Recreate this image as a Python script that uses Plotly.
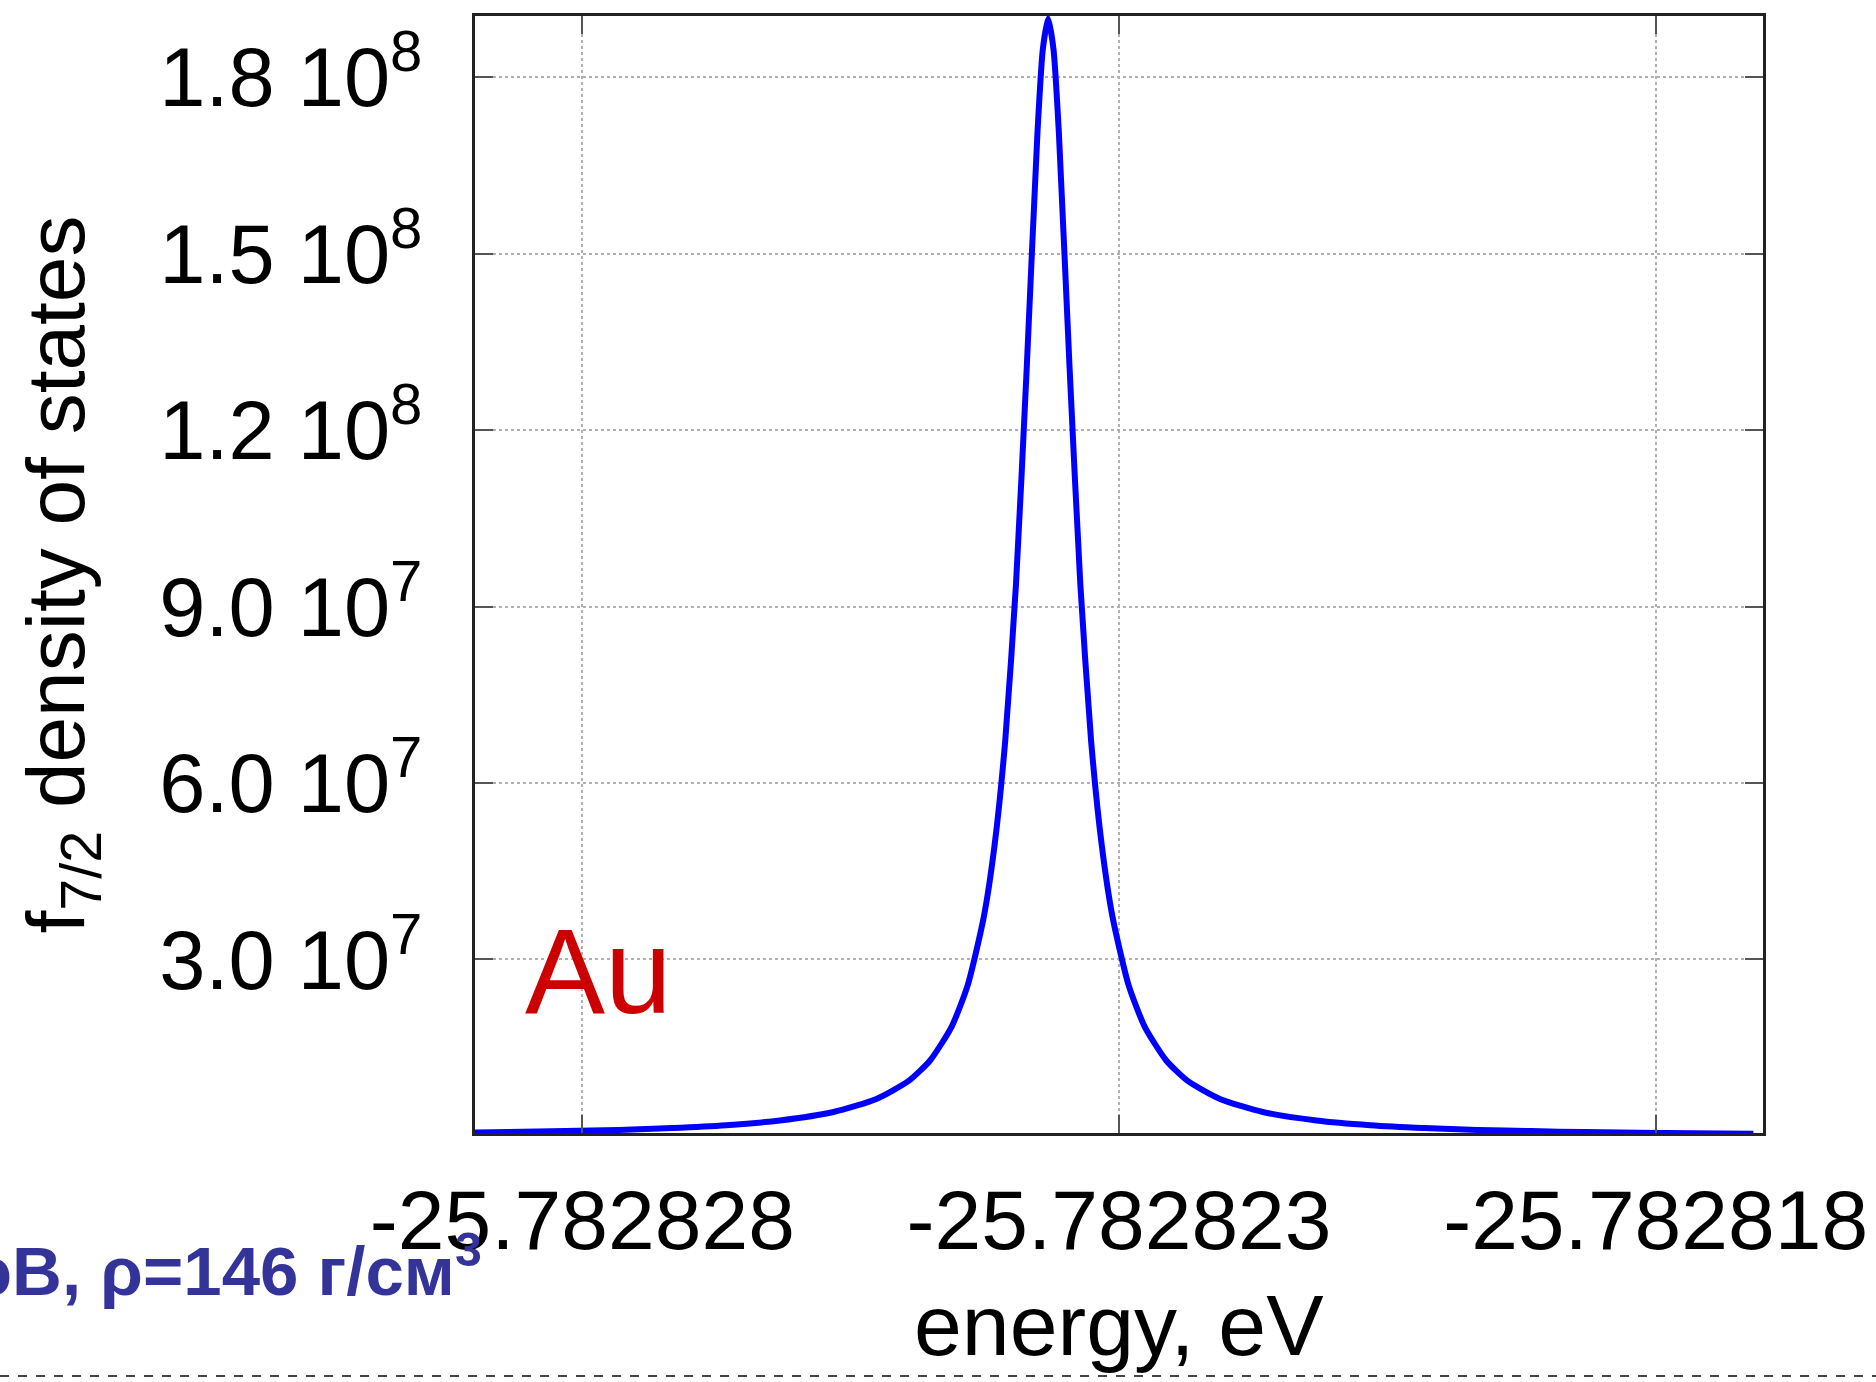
import plotly.graph_objects as go

# energy (eV) and f7/2 density of states
energy = [
    -25.78282900, -25.78282816, -25.78282766, -25.78282716, -25.78282666,
    -25.78282616, -25.78282566, -25.78282526, -25.78282496, -25.78282476,
    -25.78282456, -25.78282441, -25.78282426, -25.78282416, -25.78282406,
    -25.78282396, -25.78282386, -25.78282376, -25.78282371, -25.78282366,
    -25.78282361, -25.78282356, -25.78282346, -25.78282336, -25.78282326,
    -25.78282316, -25.78282306, -25.78282291, -25.78282276, -25.78282256,
    -25.78282236, -25.78282206, -25.78282166, -25.78282116, -25.78282066,
    -25.78282016, -25.78281966, -25.78281916, -25.78281866, -25.78281766,
    -25.78281709,
]
dos = [
    5.8e5, 8.2e5, 1.03e6, 1.35e6, 1.83e6,
    2.63e6, 4.07e6, 6.29e6, 9.36e6, 1.283e7,
    1.855e7, 2.56e7, 3.72e7, 4.93e7, 6.72e7,
    9.37e7, 1.304e8, 1.705e8, 1.847e8, 1.90e8,
    1.847e8, 1.705e8, 1.304e8, 9.37e7, 6.72e7,
    4.93e7, 3.72e7, 2.56e7, 1.855e7, 1.283e7,
    9.36e6, 6.29e6, 4.07e6, 2.63e6, 1.83e6,
    1.35e6, 1.03e6, 8.2e5, 6.6e5, 4.6e5,
    3.8e5,
]

x_tickvals = [-25.782828, -25.782823, -25.782818]
x_ticktext = ["-25.782828", "-25.782823", "-25.782818"]
y_tickvals = [3.0e7, 6.0e7, 9.0e7, 1.2e8, 1.5e8, 1.8e8]
y_ticktext = ["3.0 10<sup>7</sup>", "6.0 10<sup>7</sup>", "9.0 10<sup>7</sup>",
              "1.2 10<sup>8</sup>", "1.5 10<sup>8</sup>", "1.8 10<sup>8</sup>"]

FONT = "Liberation Sans, Arial, Helvetica, sans-serif"

fig = go.Figure()
fig.add_trace(go.Scatter(
    x=energy, y=dos, mode="lines",
    line=dict(color="#0000FF", width=6, shape="spline", smoothing=0.6),
    showlegend=False, hoverinfo="x+y",
))

axis_common = dict(
    showline=True, linecolor="#222222", linewidth=3, mirror="ticks",
    ticks="inside", ticklen=18, tickwidth=2, tickcolor="#555555",
    showgrid=True, gridcolor="#B0B0B0", gridwidth=2, griddash="dot",
    zeroline=False,
)

fig.update_xaxes(
    range=[-25.782829, -25.782817],
    tickmode="array", tickvals=x_tickvals, ticktext=x_ticktext,
    tickfont=dict(family=FONT, size=84, color="#000000"),
    ticklabelstandoff=12,
    **axis_common,
)
fig.update_yaxes(
    range=[5.0e5, 1.904e8],
    tickmode="array", tickvals=y_tickvals, ticktext=y_ticktext,
    tickfont=dict(family=FONT, size=83, color="#000000"),
    ticklabelstandoff=33,
    title=dict(text="f<sub>7/2</sub> density of states",
               font=dict(family=FONT, size=82, color="#000000"), standoff=48),
    **axis_common,
)

# x-axis title
fig.add_annotation(
    text="energy, eV", xref="paper", yref="paper", x=0.5, y=(1133 - 1325) / 1117,
    xanchor="center", yanchor="middle", showarrow=False,
    font=dict(family=FONT, size=86, color="#000000"),
)

fig.add_annotation(
    text="Au", xref="paper", yref="paper", x=0.037, y=0.145,
    xanchor="left", yanchor="middle", showarrow=False,
    font=dict(family="Liberation Sans Narrow, Arial Narrow, sans-serif", size=120, color="#CC0000"),
)

fig.add_annotation(
    text="<b>эВ, ρ=146 г/см<sup>3</sup></b>", xref="paper", yref="paper",
    x=(484 - 475) / 1288, y=(1133 - 1266) / 1117,
    xanchor="right", yanchor="middle", showarrow=False,
    font=dict(family=FONT, size=69, color="#333399"),
)

fig.add_shape(
    type="line", xref="paper", yref="paper",
    x0=-475 / 1288, x1=(1876 - 475) / 1288,
    y0=(1133 - 1376) / 1117, y1=(1133 - 1376) / 1117,
    line=dict(color="#444444", width=2, dash="dash"),
)

fig.update_layout(
    width=1876, height=1382,
    margin=dict(l=475, r=113, t=16, b=249, autoexpand=False),
    paper_bgcolor="#FFFFFF", plot_bgcolor="#FFFFFF",
    font=dict(family=FONT, color="#000000"),
)

fig.write_html("out.html")
